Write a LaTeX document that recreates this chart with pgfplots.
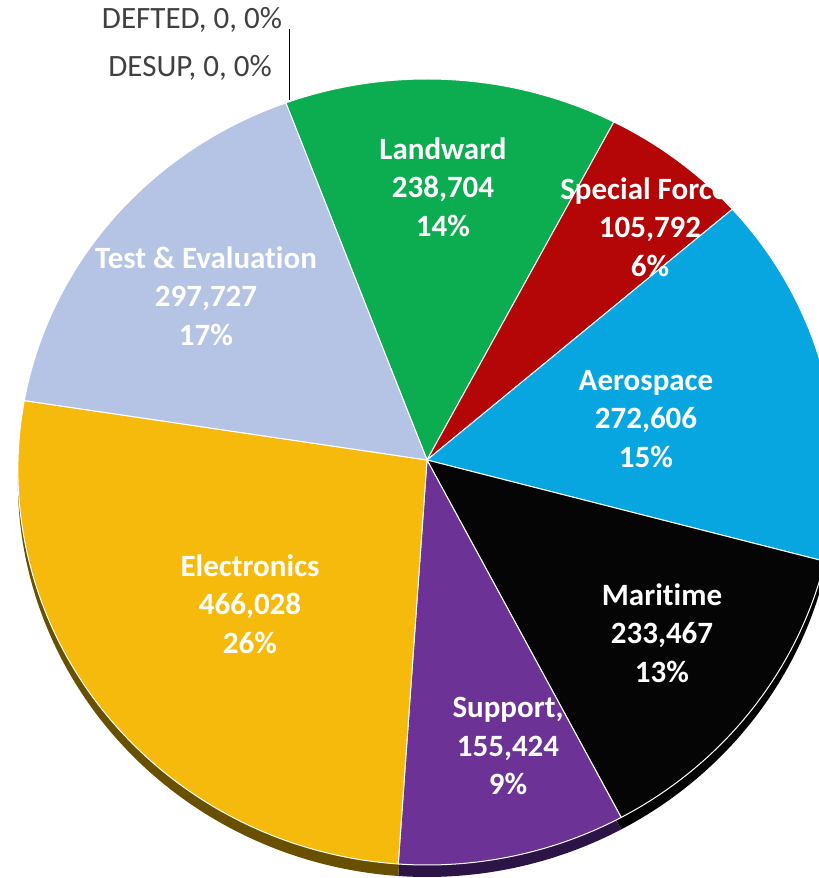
\documentclass[border=0pt]{standalone}
\usepackage{pgfplots}
\pgfplotsset{compat=1.18}
\usepackage{pgfplotstable}
\usepackage{fontspec}
\setmainfont{Carlito}[Ligatures={NoCommon}]

\definecolor{cLand}{RGB}{12,173,80}
\definecolor{cSF}{RGB}{180,6,6}
\definecolor{cAero}{RGB}{8,166,224}
\definecolor{cMar}{RGB}{5,5,5}
\definecolor{cSup}{RGB}{108,50,150}
\definecolor{cElec}{RGB}{246,186,12}
\definecolor{cTE}{RGB}{181,196,228}
\definecolor{rAero}{RGB}{4,80,110}
\definecolor{rMar}{RGB}{0,0,0}
\definecolor{rSup}{RGB}{45,20,70}
\definecolor{rElec}{RGB}{105,80,0}
\definecolor{cLbl}{RGB}{64,64,64}

\pgfplotstableread{
name value
Landward 238704
SpecialForces 105792
Aerospace 272606
Maritime 233467
Support 155424
Electronics 466028
TestEvaluation 297727
DESUP 0
DEFTED 0
}\piedata

\def\total{0}
\pgfplotsforeachungrouped \i in {0,...,8}{%
  \pgfplotstablegetelem{\i}{value}\of\piedata
  \xdef\total{\fpeval{\total+\pgfplotsretval}}}
\def\cur{110.7}
\pgfplotsforeachungrouped \i in {0,...,8}{%
  \pgfplotstablegetelem{\i}{value}\of\piedata
  \expandafter\xdef\csname sa\i\endcsname{\cur}%
  \xdef\cur{\fpeval{\cur-\pgfplotsretval/\total*360}}%
  \expandafter\xdef\csname sb\i\endcsname{\cur}}

% #1 index, #2 fill, #3 draw, #4 vertical shift
\newcommand\slice[4]{%
  \edef\temp{\noexpand\addplot[fill=#2, draw=#3, line width=1pt, line join=round,
    domain=\csname sb#1\endcsname:\csname sa#1\endcsname, samples=90, variable=\noexpand\t]
    ({409*cos(\noexpand\t)*(1-0.025*sin(\noexpand\t))},{sin(\noexpand\t)*(393-12*sin(\noexpand\t))-#4})
    -- (axis cs:0,-#4) -- cycle;}\temp}

\begin{document}
\begin{tikzpicture}
\begin{axis}[
  width=819pt, height=878pt, scale only axis,
  xmin=-427, xmax=392, ymin=-418, ymax=460,
  axis line style={draw=none}, xtick=\empty, ytick=\empty,
  tick style={draw=none}, clip=true,
]
% 3D rim
\slice{2}{rAero}{none}{12}
\slice{3}{rMar}{none}{12}
\slice{4}{rSup}{none}{12}
\slice{5}{rElec}{none}{12}
% top faces
\slice{0}{cLand}{white}{0}
\slice{1}{cSF}{white}{0}
\slice{2}{cAero}{white}{0}
\slice{3}{cMar}{white}{0}
\slice{4}{cSup}{white}{0}
\slice{5}{cElec}{white}{0}
\slice{6}{cTE}{white}{0}
% leader line for zero slices
\addplot[black, line width=0.8pt] coordinates {(-138,360) (-138,431)};

\tikzset{lbl/.style={align=center, text=white, font=\bfseries\fontsize{31}{38.5}\selectfont, inner sep=0pt}}
\node[lbl] at (axis cs:16,273) {Landward\\238,704\\14\%};
\node[lbl] at (axis cs:223,233) {Special Forces\\105,792\\6\%};
\node[lbl] at (axis cs:219,41) {Aerospace\\272,606\\15\%};
\node[lbl] at (axis cs:235,-173) {Maritime\\233,467\\13\%};
\node[lbl] at (axis cs:81,-286) {Support,\\155,424\\9\%};
\node[lbl] at (axis cs:-177,-144) {Electronics\\466,028\\26\%};
\node[lbl] at (axis cs:-221,164) {Test \& Evaluation\\297,727\\17\%};
\node[text=cLbl, font=\fontsize{31}{37}\selectfont, inner sep=0pt] at (axis cs:-235,440) {DEFTED, 0, 0\%};
\node[text=cLbl, font=\fontsize{31}{37}\selectfont, inner sep=0pt] at (axis cs:-237,392) {DESUP, 0, 0\%};
\end{axis}
\end{tikzpicture}
\end{document}
